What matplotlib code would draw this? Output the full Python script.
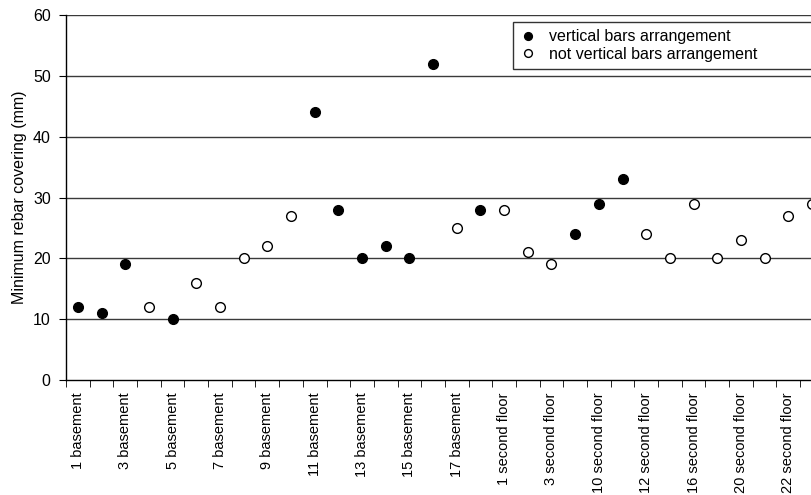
import matplotlib.pyplot as plt
import numpy as np

plt.rcParams["font.family"] = ["Liberation Sans", "DejaVu Sans"]

categories = [
    "1 basement", "2 basement", "3 basement", "4 basement", "5 basement",
    "6 basement", "7 basement", "8 basement", "9 basement", "10 basement",
    "11 basement", "12 basement", "13 basement", "14 basement", "15 basement",
    "16 basement", "17 basement", "18 basement",
    "1 second floor", "2 second floor", "3 second floor", "4 second floor",
    "10 second floor", "11 second floor", "12 second floor", "13 second floor",
    "16 second floor", "17 second floor", "20 second floor", "21 second floor",
    "22 second floor", "23 second floor",
]
covering = [12, 11, 19, 12, 10, 16, 12, 20, 22, 27, 44, 28, 20, 22, 20, 52,
            25, 28, 28, 21, 19, 24, 29, 33, 24, 20, 29, 20, 23, 20, 27, 29]
vertical = [1, 1, 1, 0, 1, 0, 0, 0, 0, 0, 1, 1, 1, 1, 1, 1,
            0, 1, 0, 0, 0, 1, 1, 1, 0, 0, 0, 0, 0, 0, 0, 0]

x = np.arange(len(categories))
y = np.array(covering)
v = np.array(vertical, dtype=bool)

fig = plt.figure(figsize=(8.12, 4.95), dpi=100)
ax = fig.add_axes([66 / 812, 1 - 380 / 495, 1 - 66 / 812, 365 / 495])

for yy in range(10, 61, 10):
    ax.axhline(yy, color="#3a3a3a", lw=1, zorder=1)

ax.plot(x[v], y[v], "o", ms=7, color="black", ls="none", zorder=3,
        label="vertical bars arrangement")
ax.plot(x[~v], y[~v], "o", ms=7, mfc="white", mec="black", mew=1, ls="none",
        zorder=3, label="not vertical bars arrangement")

ax.set_xlim(-0.5, 31.0)
ax.set_ylim(0, 60)
ax.set_yticks(range(0, 61, 10))
ax.tick_params(axis="y", labelsize=11.5, length=5, pad=6, direction="out")

ax.set_xticks(x[::2])
ax.set_xticklabels(categories[::2], rotation=90, fontsize=10.5, va="top")
ax.set_xticks(np.arange(-0.5, 31.5, 1), minor=True)
ax.tick_params(axis="x", which="major", length=0, pad=9)
ax.tick_params(axis="x", which="minor", length=5, direction="out")

ax.set_ylabel("Minimum rebar covering (mm)", fontsize=11.5)
ax.yaxis.set_label_coords(-0.052, 0.5)

for s in ["top", "right"]:
    ax.spines[s].set_visible(False)
ax.spines["left"].set_linewidth(1)
ax.spines["bottom"].set_linewidth(1)

leg = ax.legend(loc="upper left", bbox_to_anchor=(513 / 812, 1 - 22 / 495, 0.5, 0),
                bbox_transform=fig.transFigure, mode="expand", fontsize=11.5,
                frameon=True, fancybox=False, edgecolor="black",
                borderaxespad=0, handletextpad=0.8, borderpad=0.45,
                labelspacing=0.15, handlelength=1.0, markerscale=0.8)
leg.get_frame().set_linewidth(1)

fig.savefig("out.png", dpi=100)
